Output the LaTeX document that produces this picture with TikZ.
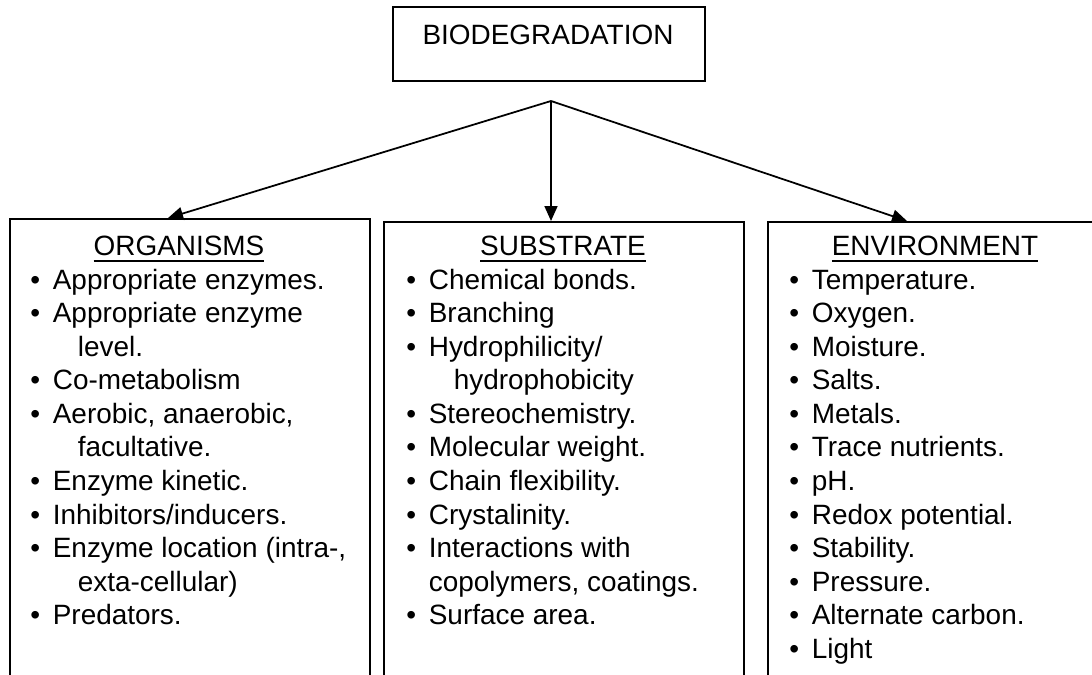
\documentclass[tikz,border=0pt]{standalone}
\usepackage{fontspec}
\setmainfont{Liberation Sans}
\usetikzlibrary{arrows.meta, calc}

\newcommand{\bitem}[1]{\makebox[0.45cm][l]{\textbullet}#1}
\newcommand{\bmore}[1]{\hspace*{0.95cm}#1}
\newcommand{\bnext}[1]{\hspace*{0.45cm}#1}
\newcommand{\uhead}[1]{\setbox0\hbox{#1}\rlap{\rule[-0.12cm]{\wd0}{0.04cm}}\box0}

\begin{document}
\begin{tikzpicture}[x=0.02cm, y=-0.02cm,
    box/.style={draw, line width=1.1pt, inner sep=0pt},
    colbox/.style={box, anchor=north west, minimum width=7.2cm, minimum height=10cm},
    line/.style={anchor=base west, inner sep=0pt, font=\fontsize{15.9}{19}\selectfont},
    head/.style={anchor=base, inner sep=0pt, font=\fontsize{15.9}{19}\selectfont},
    arr/.style={line width=1pt, -{Triangle[length=0.3cm, width=0.26cm]}}]

  % frame
  \useasboundingbox (0,0) rectangle (1092,675);
  \clip (0,0) rectangle (1092,675);

  % top box
  \node[box, minimum width=6.24cm, minimum height=1.48cm] (bio) at (549,44) {};
  \node[head] (biotext) at (548,45) {BIODEGRADATION};

  % column boxes (open at the bottom edge)
  \node[colbox] (org) at (9,218) {};
  \node[colbox] (sub) at (383,221) {};
  \node[colbox] (env) at (767,221) {};

  % arrows
  \coordinate (fork) at (551,101);
  \draw[arr] (fork) -- ($(org.north west)+(159,0)$);
  \draw[arr] (fork) -- (fork |- sub.north);
  \draw[arr] (fork) -- ($(env.north west)+(140,0)$);

  % headings
  \node[head] (orghead) at (179,256) {\uhead{ORGANISMS}};
  \node[head] (subhead) at (563,256) {\uhead{SUBSTRATE}};
  \node[head] (envhead) at (935,256) {\uhead{ENVIRONMENT}};

  % organisms
  \foreach \txt [count=\i] in {\bitem{Appropriate enzymes.}, \bitem{Appropriate enzyme},
      \bmore{level.}, \bitem{Co-metabolism}, \bitem{Aerobic, anaerobic,},
      \bmore{facultative.}, \bitem{Enzyme kinetic.}, \bitem{Inhibitors/inducers.},
      \bitem{Enzyme location (intra-,}, \bmore{exta-cellular)}, \bitem{Predators.}}
    \node[line] (org\i) at (30,{256+33.5*\i}) {\txt};

  % substrate
  \foreach \txt [count=\i] in {\bitem{Chemical bonds.}, \bitem{Branching},
      \bitem{Hydrophilicity/}, \bmore{hydrophobicity}, \bitem{Stereochemistry.},
      \bitem{Molecular weight.}, \bitem{Chain flexibility.}, \bitem{Crystalinity.},
      \bitem{Interactions with}, \bnext{copolymers, coatings.}, \bitem{Surface area.}}
    \node[line] (sub\i) at (406,{256+33.5*\i}) {\txt};

  % environment
  \foreach \txt [count=\i] in {\bitem{Temperature.}, \bitem{Oxygen.}, \bitem{Moisture.},
      \bitem{Salts.}, \bitem{Metals.}, \bitem{Trace nutrients.}, \bitem{pH.},
      \bitem{Redox potential.}, \bitem{Stability.}, \bitem{Pressure.},
      \bitem{Alternate carbon.}, \bitem{Light}}
    \node[line] (env\i) at (789,{256+33.5*\i}) {\txt};

\end{tikzpicture}
\end{document}
